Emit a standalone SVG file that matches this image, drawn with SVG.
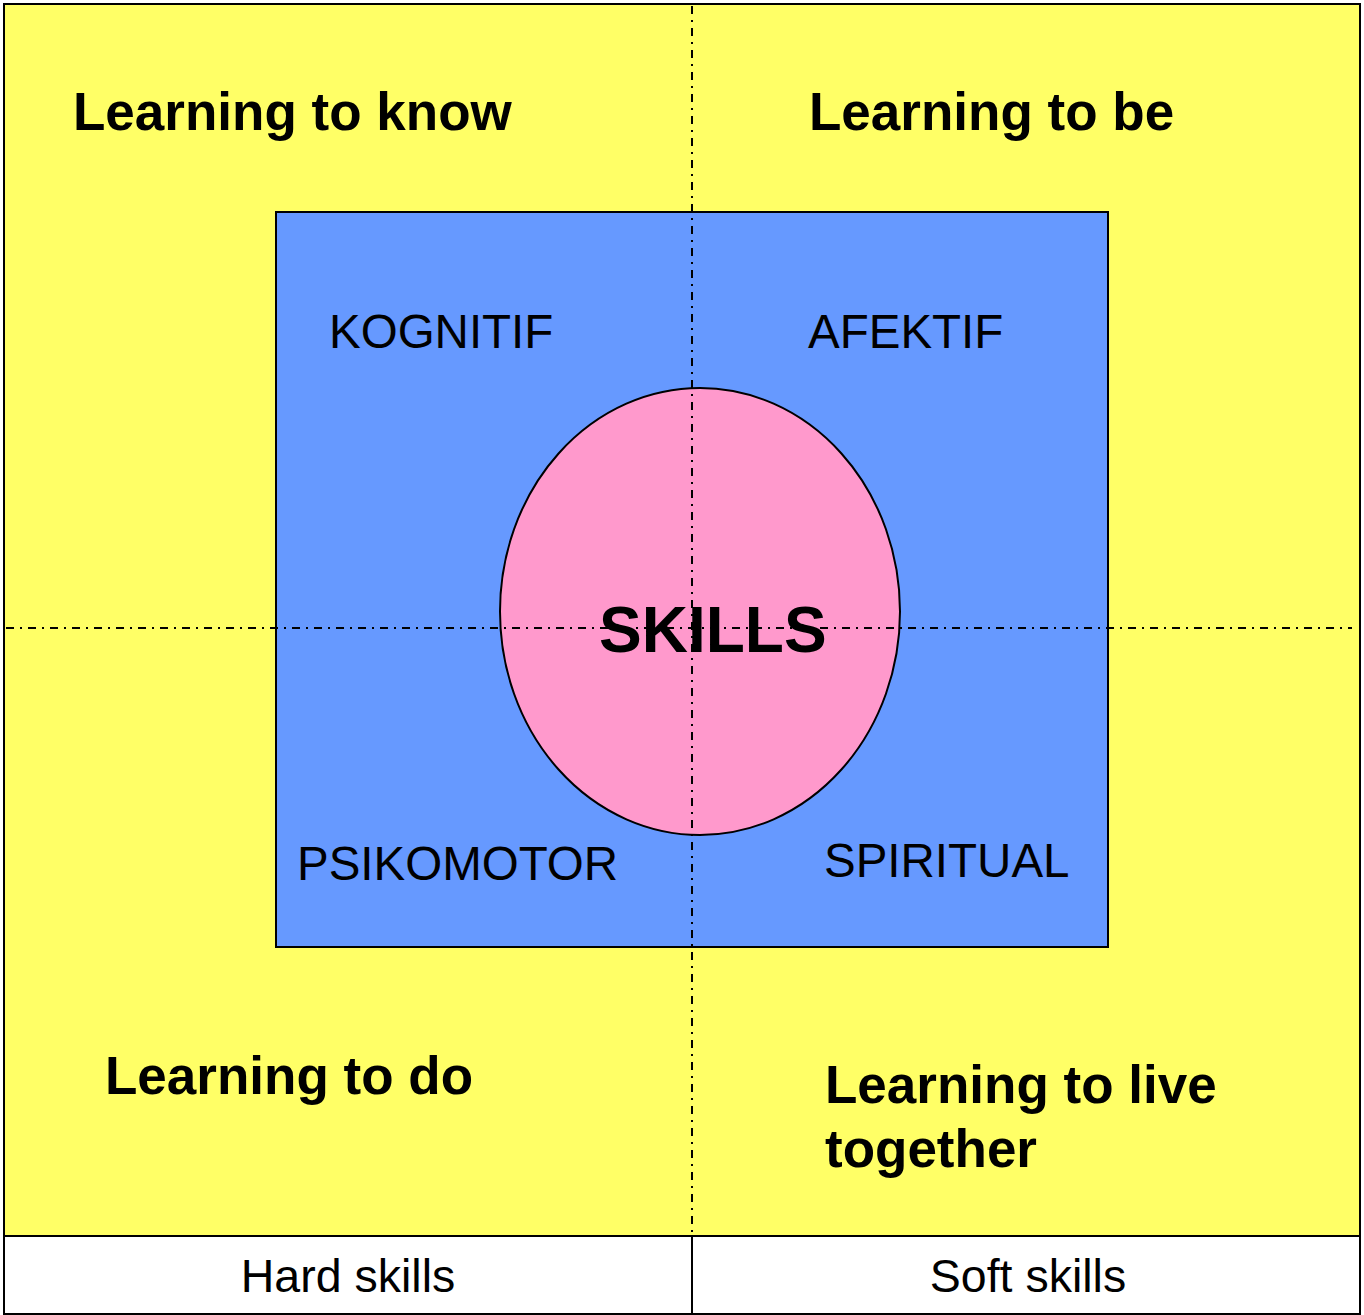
<svg xmlns="http://www.w3.org/2000/svg" width="1364" height="1315" viewBox="0 0 1364 1315">
<style>
.b{stroke:#000;stroke-width:2}
.axis{stroke:#000;stroke-width:2;stroke-dasharray:8,6,2,6;fill:none}
.h{font-family:"Liberation Sans",Arial,sans-serif;font-weight:bold;font-size:53px;fill:#000}
.r{font-family:"Liberation Sans",Arial,sans-serif;font-size:47.5px;fill:#000}
.f{font-family:"Liberation Sans",Arial,sans-serif;font-size:46.5px;fill:#000}
</style>
<rect width="1364" height="1315" fill="#fff"/>
<g id="background">
<rect class="b" x="4" y="4" width="1356" height="1232" fill="#FFFF66"/>
</g>
<g id="footer">
<rect class="b" x="4" y="1236" width="688" height="78" fill="#fff"/>
<rect class="b" x="692" y="1236" width="668" height="78" fill="#fff"/>
<text class="f" x="348" y="1292" text-anchor="middle">Hard skills</text>
<text class="f" x="1028" y="1292" text-anchor="middle">Soft skills</text>
</g>
<g id="domains">
<rect class="b" x="276" y="212" width="832" height="735" fill="#6699FF"/>
</g>
<g id="skills">
<ellipse class="b" cx="700" cy="611.5" rx="200" ry="223.5" fill="#FF99CC"/>
</g>
<g id="axes">
<line class="axis" x1="692" y1="6" x2="692" y2="1234"/>
<line class="axis" x1="6" y1="628" x2="1352" y2="628"/>
</g>
<g id="labels">
<text class="h" x="73" y="130">Learning to know</text>
<text class="h" x="809" y="130">Learning to be</text>
<text class="h" x="105" y="1094">Learning to do</text>
<text class="h" x="825" y="1103">Learning to live</text>
<text class="h" x="825" y="1167">together</text>
<text class="r" x="329" y="348">KOGNITIF</text>
<text class="r" x="808" y="348">AFEKTIF</text>
<text class="r" x="297" y="880">PSIKOMOTOR</text>
<text class="r" x="824" y="877">SPIRITUAL</text>
<text class="h" x="599" y="652" style="font-size:64px">SKILLS</text>
</g>
</svg>
